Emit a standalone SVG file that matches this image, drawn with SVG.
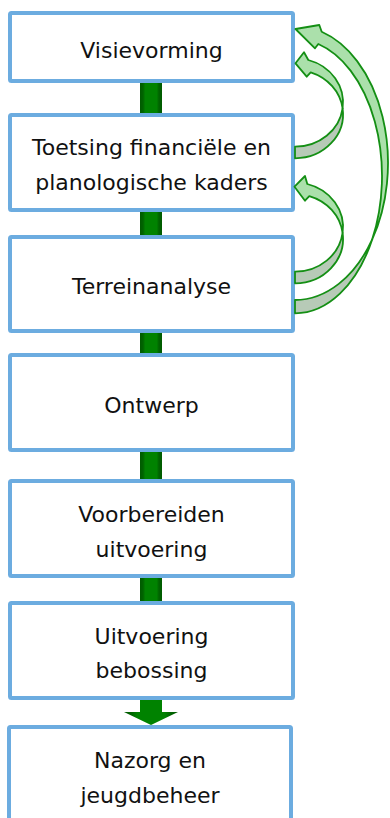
<svg xmlns="http://www.w3.org/2000/svg" width="390" height="818" viewBox="0 0 390 818">
<defs>
<linearGradient id="bar" x1="0" y1="0" x2="1" y2="0">
<stop offset="0" stop-color="#005a00"/>
<stop offset="0.14" stop-color="#006400"/>
<stop offset="0.24" stop-color="#008200"/>
<stop offset="0.76" stop-color="#008200"/>
<stop offset="0.86" stop-color="#006400"/>
<stop offset="1" stop-color="#005a00"/>
</linearGradient>
<style>
.box{fill:#fff;stroke:#6cace0;stroke-width:4}
.lbl{font-family:"DejaVu Sans",Verdana,sans-serif;font-size:22px;fill:#111;text-anchor:middle}
.bar{fill:url(#bar)}
.front{fill:#abe0ab;stroke:#148f14;stroke-width:1.8;stroke-linejoin:round}
.back{fill:#b7cab7;stroke:#148f14;stroke-width:1.8;stroke-linejoin:round}
</style>
</defs>
<g id="connectors">
<rect class="bar" x="140" y="80" width="22" height="36"/>
<rect class="bar" x="140" y="208" width="22" height="30"/>
<rect class="bar" x="140" y="330" width="22" height="26"/>
<rect class="bar" x="140" y="449" width="22" height="33"/>
<rect class="bar" x="140" y="575" width="22" height="29"/>
<path class="bar" d="M140,697 L162,697 L162,712 L178,712 L151,725 L124,712 L140,712 Z"/>
</g>
<g id="n1"><rect class="box" x="10" y="13" width="283" height="68" rx="1.5"/><text class="lbl" x="151.5" y="58">Visievorming</text></g>
<g id="n2"><rect class="box" x="10" y="115" width="283" height="95" rx="1.5"/><text class="lbl" x="151.5" y="155">Toetsing financiële en</text><text class="lbl" x="151.5" y="190">planologische kaders</text></g>
<g id="n3"><rect class="box" x="10" y="237" width="283" height="94" rx="1.5"/><text class="lbl" x="151.5" y="294">Terreinanalyse</text></g>
<g id="n4"><rect class="box" x="10" y="355" width="283" height="95" rx="1.5"/><text class="lbl" x="151.5" y="413">Ontwerp</text></g>
<g id="n5"><rect class="box" x="10" y="481" width="283" height="95" rx="1.5"/><text class="lbl" x="151.5" y="522">Voorbereiden</text><text class="lbl" x="151.5" y="557">uitvoering</text></g>
<g id="n6"><rect class="box" x="10" y="603" width="283" height="95" rx="1.5"/><text class="lbl" x="151.5" y="644">Uitvoering</text><text class="lbl" x="151.5" y="678">bebossing</text></g>
<g id="n7"><rect class="box" x="9" y="727" width="282" height="120" rx="1.5"/><text class="lbl" x="150" y="768">Nazorg en</text><text class="lbl" x="150" y="803">jeugdbeheer</text></g>
<g id="loops">
<g id="loopA">
<path class="back" d="M295,146.7 A48,44.2 0 0 0 342.6,108.3 A48,44.2 0 0 1 295,158.3 Z"/>
<path class="front" d="M342.6,108.3 A48,44.2 0 0 0 308.3,60 L304,52.3 L295.5,63.3 L306.7,76.7 L310.7,72.3 A48,44.2 0 0 1 342.6,108.3 Z"/>
</g>
<g id="loopC">
<path class="back" d="M295,271.7 A48,44.6 0 0 0 342.6,232.9 A48,44.6 0 0 1 295,283.3 Z"/>
<path class="front" d="M342.6,232.9 A48,44.6 0 0 0 307.3,184 L305,176 L294.5,186.7 L305,200.7 L309.3,196.1 A48,44.6 0 0 1 342.6,232.9 Z"/>
</g>
<g id="loopB">
<path class="back" d="M295,300 A93,137 0 0 0 372.2,239.4 A87,137.15 0 0 1 295,313.3 Z"/>
<path class="front" d="M372.2,239.4 A93,137 0 0 0 321.7,31.8 L319.3,25 L295.5,29 L315,48.3 L318.3,44 A87,137.15 0 0 1 372.2,239.4 Z"/>
</g>
</g>
</svg>
